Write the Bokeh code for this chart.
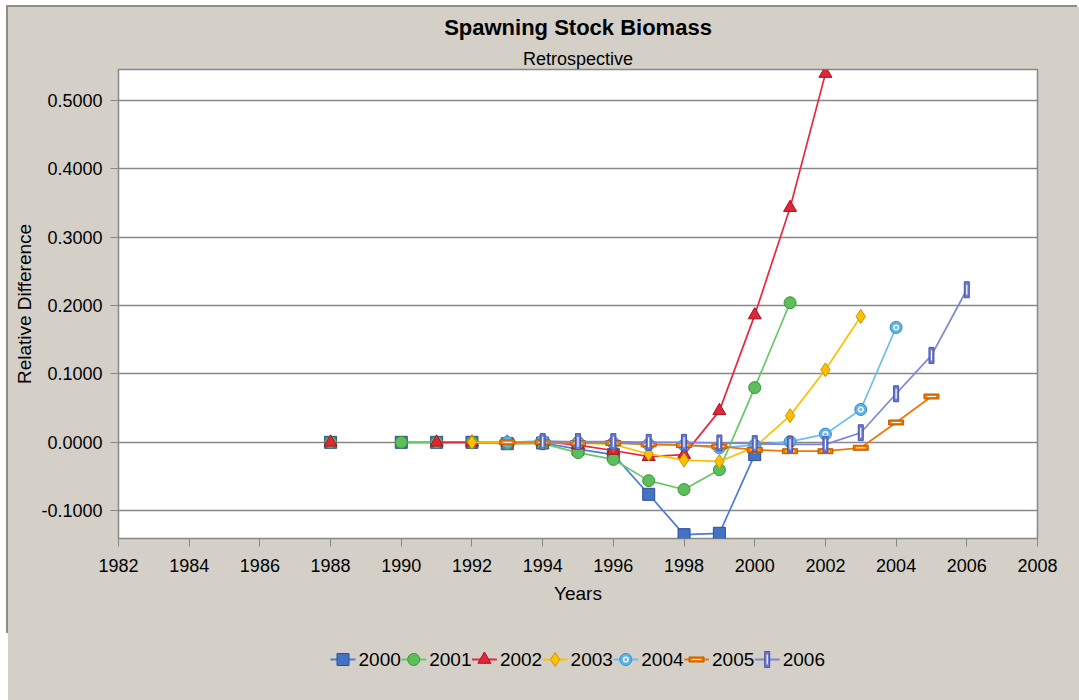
import math
from bokeh.plotting import figure
from bokeh.layouts import column
from bokeh.models import Range1d, FixedTicker, NumeralTickFormatter, Title
from bokeh.core.properties import value
from bokeh.embed import file_html
from bokeh.resources import INLINE

nan = float("nan")

# ---- data -------------------------------------------------------------
years = [1988, 1989, 1990, 1991, 1992, 1993, 1994, 1995, 1996, 1997,
         1998, 1999, 2000, 2001, 2002, 2003, 2004, 2005, 2006]

v2000 = [0.000, nan, 0.000, 0.000, 0.000, -0.002, -0.001, -0.010, -0.018, -0.076,
         -0.135, -0.133, -0.018, nan, nan, nan, nan, nan, nan]
v2001 = [0.000, nan, 0.000, 0.000, 0.000, -0.002, -0.002, -0.015, -0.025, -0.056,
         -0.069, -0.040, 0.080, 0.204, nan, nan, nan, nan, nan]
v2002 = [0.000, nan, nan, 0.000, 0.000, 0.000, 0.001, -0.004, -0.012, -0.021,
         -0.018, 0.046, 0.186, 0.343, 0.539, nan, nan, nan, nan]
v2003 = [nan, nan, nan, nan, 0.000, 0.000, 0.000, -0.001, -0.003, -0.017,
         -0.026, -0.028, -0.007, 0.039, 0.106, 0.184, nan, nan, nan]
v2004 = [nan, nan, nan, nan, nan, 0.000, 0.002, 0.000, -0.001, -0.003,
         -0.004, -0.008, -0.004, 0.001, 0.012, 0.048, 0.168, nan, nan]
v2005 = [nan, nan, nan, nan, nan, 0.000, 0.000, -0.001, -0.001, -0.003,
         -0.004, -0.006, -0.011, -0.013, -0.013, -0.008, 0.029, 0.067, nan]
v2006 = [nan, nan, nan, nan, nan, nan, 0.001, 0.001, 0.001, 0.000,
         0.000, -0.001, -0.002, -0.003, -0.003, 0.014, 0.071, 0.127, 0.223]

series_labels = ["2000", "2001", "2002", "2003", "2004", "2005", "2006"]
series_values = [v2000, v2001, v2002, v2003, v2004, v2005, v2006]

x_ticks = [1982, 1984, 1986, 1988, 1990, 1992, 1994, 1996, 1998, 2000,
           2002, 2004, 2006, 2008]
y_ticks = [-0.1, 0.0, 0.1, 0.2, 0.3, 0.4, 0.5]

# ---- styling ----------------------------------------------------------
FONT = "Liberation Sans"
BG = "#D4D0C8"
GRID = "#888888"
W = 1071
H_MAIN = 628
H_LEG = 65
FRAME_L, FRAME_R = 118, 1037          # page x of the plot frame edges

line_colors = ["#4A7BD8", "#66C866", "#E8283C", "#FFC000", "#6CBEF0", "#F07800", "#7B86D6"]


def draw_series_marks(fig, lab, xs, ys):
    """Draw the marker of one series at points xs, ys."""
    if lab == "2000":
        fig.scatter(xs, ys, marker="square", size=12,
                    fill_color="#4472C4", line_color="#2E4E96", line_width=1)
    elif lab == "2001":
        fig.scatter(xs, ys, marker="circle", size=12,
                    fill_color="#5CBF5C", line_color="#3A943A", line_width=1)
    elif lab == "2002":
        fig.scatter(xs, ys, marker="triangle", size=13,
                    fill_color="#E0263A", line_color="#A8101E", line_width=1)
    elif lab == "2003":
        fig.scatter(xs, ys, marker="diamond", size=14,
                    fill_color="#FFC000", line_color="#C89600", line_width=1)
    elif lab == "2004":
        fig.scatter(xs, ys, marker="circle", size=12,
                    fill_color="#5AB4E8", line_color="#3C8CC4", line_width=1)
        fig.scatter(xs, ys, marker="circle", size=6,
                    fill_color="white", line_color=None)
        fig.scatter(xs, ys, marker="circle", size=3,
                    fill_color="#5AB4E8", line_color=None)
    elif lab == "2005":
        fig.rect(xs, ys, width=15, height=5, width_units="screen", height_units="screen",
                 fill_color="#F07800", line_color="#B85A00", line_width=1)
        fig.rect(xs, ys, width=9, height=1, width_units="screen", height_units="screen",
                 fill_color="white", line_color=None)
    elif lab == "2006":
        fig.rect(xs, ys, width=5, height=16, width_units="screen", height_units="screen",
                 fill_color="#6B78CC", line_color="#4A56A8", line_width=1)
        fig.rect(xs, ys, width=1.2, height=10, width_units="screen", height_units="screen",
                 fill_color="white", line_color=None)


# ---- main chart -------------------------------------------------------
p = figure(width=W, height=H_MAIN, output_backend="svg", toolbar_location=None,
           x_range=Range1d(1982, 2008), y_range=Range1d(-0.1406, 0.545),
           min_border_left=FRAME_L - 8, min_border_right=W - (FRAME_R - 8),
           min_border_top=62, min_border_bottom=H_MAIN - 531)
p.styles = {"box-shadow": "-2px -2px 0 0 #8c8c8c"}
p.border_fill_color = BG
p.background_fill_color = "white"
p.outline_line_color = GRID
p.outline_line_width = 1.5

p.add_layout(Title(text="Retrospective", align="center", text_font=FONT,
                   text_font_size="18px", text_font_style="normal",
                   text_color="black", standoff=2), "above")
p.add_layout(Title(text="Spawning Stock Biomass", align="center", text_font=FONT,
                   text_font_size="22px", text_font_style="bold",
                   text_color="black", standoff=11), "above")

for ax in (p.xaxis[0], p.yaxis[0]):
    ax.axis_line_color = None
    ax.major_tick_line_color = GRID
    ax.major_tick_line_width = 1
    ax.major_tick_out = 8
    ax.major_tick_in = 0
    ax.minor_tick_line_color = None
    ax.major_label_text_font = FONT
    ax.major_label_text_font_size = "18px"
    ax.major_label_text_color = "black"
    ax.axis_label_text_font = FONT
    ax.axis_label_text_font_size = "19px"
    ax.axis_label_text_font_style = "normal"
    ax.axis_label_text_color = "black"

p.xaxis.major_label_standoff = 12
p.yaxis.major_label_standoff = 8
p.xaxis.ticker = FixedTicker(ticks=x_ticks)
p.yaxis.ticker = FixedTicker(ticks=y_ticks)
p.yaxis.formatter = NumeralTickFormatter(format="0.0000")
p.xaxis.axis_label = "Years"
p.yaxis.axis_label = "Relative Difference"
p.xaxis.axis_label_standoff = 8
p.yaxis.axis_label_standoff = 3

p.xgrid.grid_line_color = None
p.ygrid.grid_line_color = GRID
p.ygrid.grid_line_width = 1.5

for i, (lab, vals) in enumerate(zip(series_labels, series_values)):
    p.line(years, vals, line_color=line_colors[i], line_width=1.7)
    draw_series_marks(p, lab, years, vals)

# ---- legend strip (frame aligned with the chart; data = page pixels) ----
lg = figure(width=W, height=H_LEG, output_backend="svg", toolbar_location=None,
            x_range=Range1d(FRAME_L, FRAME_R), y_range=Range1d(0, H_LEG),
            x_axis_location=None, y_axis_location=None,
            min_border_left=FRAME_L - 8, min_border_right=W - (FRAME_R - 8),
            min_border_top=0, min_border_bottom=0)
lg.border_fill_color = BG
lg.background_fill_alpha = 0
lg.outline_line_color = None
lg.xgrid.grid_line_color = None
lg.ygrid.grid_line_color = None

LEG_X0 = 330
LEG_PITCH = 70.7
LEG_Y = H_LEG - 24
for i, lab in enumerate(series_labels):
    x0 = LEG_X0 + LEG_PITCH * i
    lg.line([x0, x0 + 25], [LEG_Y, LEG_Y], line_color=line_colors[i], line_width=2)
    draw_series_marks(lg, lab, [x0 + 12.5], [LEG_Y])
    lg.text([x0 + 28], [LEG_Y], text=[lab], text_font=value(FONT),
            text_font_size=value("19px"), text_baseline="middle", text_align="left",
            text_color="black")

layout = column(p, lg, spacing=0, margin=(7, 0, 0, 8),
                styles={"background-color": BG})
open("out.html", "w").write(file_html(layout, INLINE))
